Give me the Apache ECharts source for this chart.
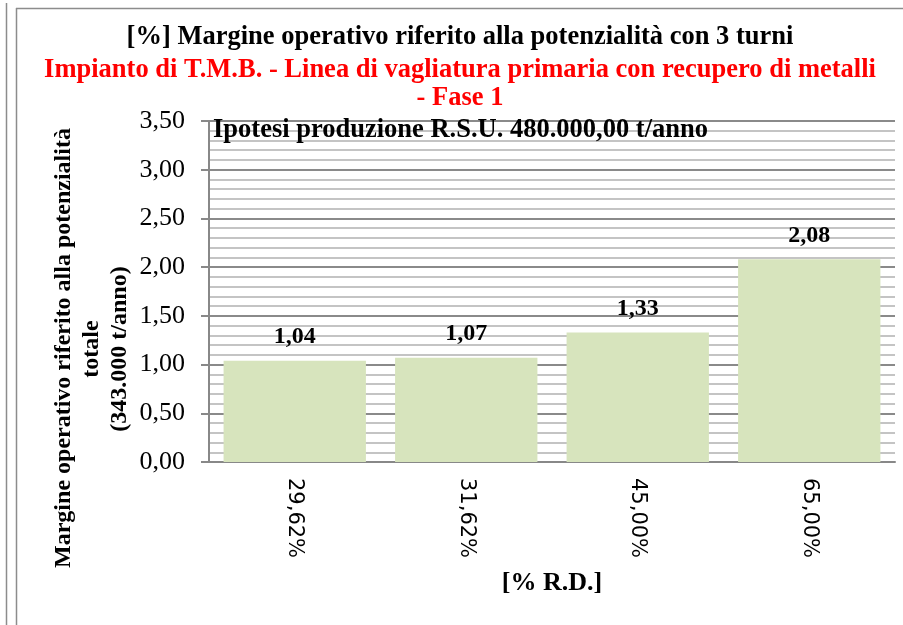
<!DOCTYPE html>
<html>
<head>
    <meta charset="UTF-8">
    <title>Margine operativo</title>
    <script src="https://cdn.jsdelivr.net/npm/echarts@6/dist/echarts.min.js"></script>
    <style>
        body { margin: 0; background: #fff; }
    </style>
</head>
<body>
    <div id="chart" style="width:903px; height:625px;"></div>
    <script>
        // dati
        var categorie = ['29,62%', '31,62%', '45,00%', '65,00%'];
        var valori = [1.04, 1.07, 1.33, 2.08];
        var titolo1 = '[%] Margine operativo riferito alla potenzialità con 3 turni';
        var titolo2 = 'Impianto di T.M.B. - Linea di vagliatura primaria con recupero di metalli';
        var titolo3 = '- Fase 1';
        var ipotesi = 'Ipotesi produzione R.S.U. 480.000,00 t/anno';
        var nomeY = ['Margine operativo riferito alla potenzialità', 'totale', '(343.000 t/anno)'];
        var nomeX = '[% R.D.]';

        var serif = '"Liberation Serif", "Times New Roman", serif';

        function virgola(v) {
            return v.toFixed(2).replace('.', ',');
        }

        var chart = echarts.init(document.getElementById('chart'), null, {renderer: 'canvas'});

        var option = {
            backgroundColor: '#fff',
            animation: false,
            grid: {left: 209, right: 8, top: 121, bottom: 163},
            xAxis: {
                type: 'category',
                data: categorie,
                name: nomeX,
                nameLocation: 'middle',
                nameGap: 108,
                nameTextStyle: {fontFamily: serif, fontWeight: 'bold', fontSize: 26, color: '#000'},
                axisLine: {lineStyle: {color: '#888', width: 2}},
                axisTick: {show: false},
                axisLabel: {
                    rotate: -90,
                    margin: 16,
                    fontFamily: '"DejaVu Sans", sans-serif',
                    fontSize: 21,
                    color: '#000'
                }
            },
            yAxis: {
                type: 'value',
                min: 0,
                max: 3.5,
                interval: 0.5,
                axisLine: {show: true, lineStyle: {color: '#888', width: 2}},
                axisTick: {show: true, length: 8, lineStyle: {color: '#888', width: 2}},
                axisLabel: {
                    margin: 24,
                    fontFamily: serif,
                    fontSize: 26,
                    color: '#000',
                    formatter: virgola
                },
                splitLine: {lineStyle: {color: '#8a8a8a', width: 2}},
                minorTick: {show: false, splitNumber: 5},
                minorSplitLine: {show: true, lineStyle: {color: '#c4c4c4', width: 2}}
            },
            series: [{
                type: 'bar',
                data: valori,
                barWidth: '83%',
                itemStyle: {color: '#d7e4bd'},
                label: {
                    show: true,
                    position: 'top',
                    distance: 12,
                    fontFamily: serif,
                    fontWeight: 'bold',
                    fontSize: 24,
                    color: '#000',
                    formatter: function (p) { return virgola(p.value); }
                }
            }],
            graphic: [
                // cornice
                {type: 'line', shape: {x1: 6.5, y1: 3, x2: 6.5, y2: 625}, style: {stroke: '#8c8c8c', lineWidth: 1.5}},
                {type: 'line', shape: {x1: 16.5, y1: 8, x2: 16.5, y2: 625}, style: {stroke: '#8c8c8c', lineWidth: 1.5}},
                {type: 'line', shape: {x1: 16, y1: 8.5, x2: 903, y2: 8.5}, style: {stroke: '#8c8c8c', lineWidth: 1.5}},
                // titoli
                {type: 'text', x: 460, y: 37, style: {text: titolo1, fill: '#000', font: 'bold 26.5px ' + serif, textAlign: 'center', textVerticalAlign: 'middle'}},
                {type: 'text', x: 460, y: 70, style: {text: titolo2, fill: '#ff0000', font: 'bold 26.5px ' + serif, textAlign: 'center', textVerticalAlign: 'middle'}},
                {type: 'text', x: 460, y: 98, style: {text: titolo3, fill: '#ff0000', font: 'bold 26.5px ' + serif, textAlign: 'center', textVerticalAlign: 'middle'}},
                {type: 'text', x: 213, y: 130, z: 10, style: {text: ipotesi, fill: '#000', font: 'bold 26.5px ' + serif, textAlign: 'left', textVerticalAlign: 'middle'}},
                // nome asse y
                {type: 'text', x: 64, y: 348, rotation: Math.PI / 2, style: {text: nomeY[0], fill: '#000', font: 'bold 24px ' + serif, textAlign: 'center', textVerticalAlign: 'middle'}},
                {type: 'text', x: 92, y: 349, rotation: Math.PI / 2, style: {text: nomeY[1], fill: '#000', font: 'bold 24px ' + serif, textAlign: 'center', textVerticalAlign: 'middle'}},
                {type: 'text', x: 120, y: 349, rotation: Math.PI / 2, style: {text: nomeY[2], fill: '#000', font: 'bold 24px ' + serif, textAlign: 'center', textVerticalAlign: 'middle'}}
            ]
        };

        chart.setOption(option);
    </script>
</body>
</html>
